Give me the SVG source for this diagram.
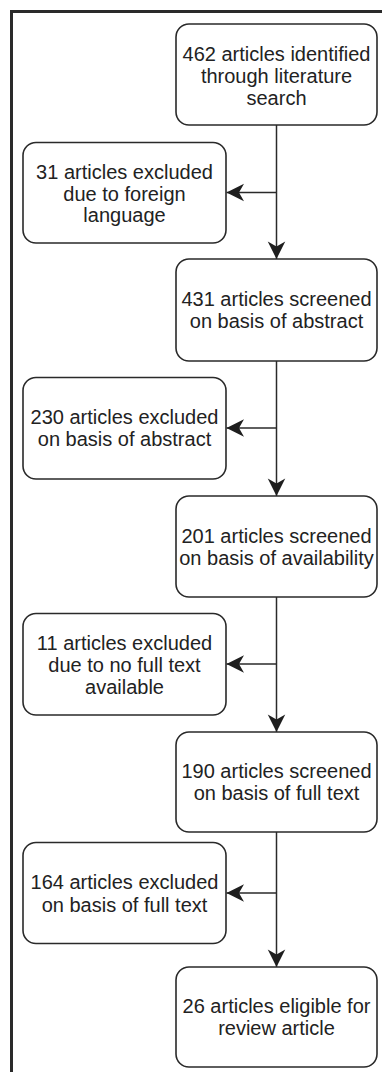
<svg xmlns="http://www.w3.org/2000/svg" width="382" height="1072" viewBox="0 0 382 1072">
<style>
.box{fill:#fff;stroke:#2a2a2a;stroke-width:1.6}
.t{font-family:"Liberation Sans",Arial,sans-serif;font-size:20px;fill:#222;text-anchor:middle}
.c{fill:none;stroke:#2a2a2a;stroke-width:1.5}
</style>
<defs>
<marker id="ah" markerUnits="userSpaceOnUse" markerWidth="20" markerHeight="20" viewBox="-15 -8 16 16" refX="0" refY="0" orient="auto">
<path d="M0,0 L-14,-7 L-10,0 L-14,7 Z" fill="#1e1e1e"/>
</marker>
</defs>
<rect x="0" y="0" width="382" height="1072" fill="#fff"/>
<rect x="11.5" y="11.5" width="420" height="1100" fill="none" stroke="#2a2a2a" stroke-width="3"/>
<g id="connectors">
<path class="c" d="M276.5,125 V259" marker-end="url(#ah)"/>
<path class="c" d="M276.5,192.5 H226.5" marker-end="url(#ah)"/>
<path class="c" d="M276.5,361 V496" marker-end="url(#ah)"/>
<path class="c" d="M276.5,428 H226.5" marker-end="url(#ah)"/>
<path class="c" d="M276.5,597 V732" marker-end="url(#ah)"/>
<path class="c" d="M276.5,664 H226.5" marker-end="url(#ah)"/>
<path class="c" d="M276.5,832 V967" marker-end="url(#ah)"/>
<path class="c" d="M276.5,893 H226.5" marker-end="url(#ah)"/>
</g>
<g id="n1">
<rect class="box" x="176" y="24" width="201" height="101" rx="13"/>
<text class="t" x="276.5" y="60.5">462 articles identified</text>
<text class="t" x="276.5" y="82.5">through literature</text>
<text class="t" x="276.5" y="104.5">search</text>
</g>
<g id="n2">
<rect class="box" x="23" y="142.5" width="203" height="100.5" rx="13"/>
<text class="t" x="124.5" y="178.5">31 articles excluded</text>
<text class="t" x="124.5" y="200.5">due to foreign</text>
<text class="t" x="124.5" y="222">language</text>
</g>
<g id="n3">
<rect class="box" x="176" y="259" width="201" height="102" rx="13"/>
<text class="t" x="276.5" y="306">431 articles screened</text>
<text class="t" x="276.5" y="328">on basis of abstract</text>
</g>
<g id="n4">
<rect class="box" x="23" y="377.5" width="203" height="101.5" rx="13"/>
<text class="t" x="124.5" y="424">230 articles excluded</text>
<text class="t" x="124.5" y="446">on basis of abstract</text>
</g>
<g id="n5">
<rect class="box" x="176" y="496" width="201" height="101" rx="13"/>
<text class="t" x="276.5" y="542.5">201 articles screened</text>
<text class="t" x="276.5" y="564.5">on basis of availability</text>
</g>
<g id="n6">
<rect class="box" x="23" y="613.5" width="203" height="101.5" rx="13"/>
<text class="t" x="124.5" y="649.5">11 articles excluded</text>
<text class="t" x="124.5" y="671.5">due to no full text</text>
<text class="t" x="124.5" y="693.5">available</text>
</g>
<g id="n7">
<rect class="box" x="176" y="732" width="201" height="100" rx="13"/>
<text class="t" x="276.5" y="778">190 articles screened</text>
<text class="t" x="276.5" y="800">on basis of full text</text>
</g>
<g id="n8">
<rect class="box" x="23" y="842.5" width="203" height="101" rx="13"/>
<text class="t" x="124.5" y="889">164 articles excluded</text>
<text class="t" x="124.5" y="911.5">on basis of full text</text>
</g>
<g id="n9">
<rect class="box" x="176" y="967" width="201" height="100" rx="13"/>
<text class="t" x="276.5" y="1013">26 articles eligible for</text>
<text class="t" x="276.5" y="1035">review article</text>
</g>
</svg>
